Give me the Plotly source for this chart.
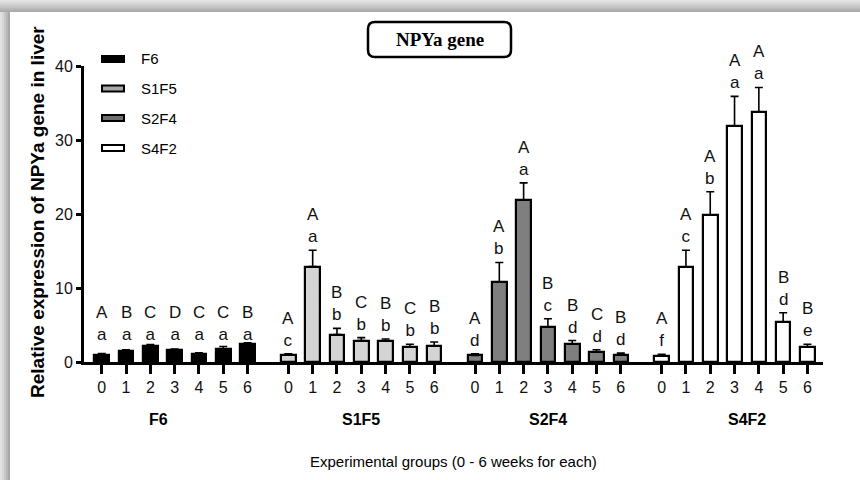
import plotly.graph_objects as go

# ---------------- data ----------------
groups = ["F6", "S1F5", "S2F4", "S4F2"]
weeks = [0, 1, 2, 3, 4, 5, 6]

F6_mean = [1.0, 1.5, 2.1, 1.6, 1.1, 1.8, 2.4]
F6_err = [0.15, 0.15, 0.25, 0.15, 0.15, 0.3, 0.2]
S1F5_mean = [0.95, 12.9, 3.7, 2.9, 2.8, 2.05, 2.2]
S1F5_err = [0.15, 2.2, 0.85, 0.4, 0.3, 0.35, 0.5]
S2F4_mean = [0.9, 10.85, 21.9, 4.7, 2.4, 1.35, 1.0]
S2F4_err = [0.2, 2.6, 2.3, 1.15, 0.5, 0.3, 0.2]
S4F2_mean = [0.85, 12.85, 19.9, 31.9, 33.8, 5.4, 2.0]
S4F2_err = [0.2, 2.25, 3.1, 4.0, 3.3, 1.25, 0.4]

F6_upper = ["A", "B", "C", "D", "C", "C", "B"]
F6_lower = ["a", "a", "a", "a", "a", "a", "a"]
S1F5_upper = ["A", "A", "B", "C", "B", "C", "B"]
S1F5_lower = ["c", "a", "b", "b", "b", "b", "b"]
S2F4_upper = ["A", "A", "A", "B", "B", "C", "B"]
S2F4_lower = ["d", "b", "a", "c", "d", "d", "d"]
S4F2_upper = ["A", "A", "A", "A", "A", "B", "B"]
S4F2_lower = ["f", "c", "b", "a", "a", "d", "e"]

y_ticks = [0, 10, 20, 30, 40]

means = [F6_mean, S1F5_mean, S2F4_mean, S4F2_mean]
errs = [F6_err, S1F5_err, S2F4_err, S4F2_err]
uppers = [F6_upper, S1F5_upper, S2F4_upper, S4F2_upper]
lowers = [F6_lower, S1F5_lower, S2F4_lower, S4F2_lower]
fills = ["#000000", "#d4d4d4", "#7f7f7f", "#ffffff"]
legend_fills = ["#000000", "#a8a8a8", "#6f6f6f", "#ffffff"]

# ---------------- layout geometry (pixels) ----------------
W, H = 860, 480
ML, MR, MT, MB = 84, 37, 66, 118
PW, PH = W - ML - MR, H - MT - MB
GROUP_STEP = 7.68
X_MIN, X_MAX = -0.73, 29.68


def px(xp):
    return (xp - ML) / PW


def py(yp):
    return (H - MB - yp) / PH


FONT = "Liberation Sans, Arial, sans-serif"

fig = go.Figure()
tickvals, ticktext = [], []
annotations = []
letter_shift = [-3, 2, 2, 2]
for g, name in enumerate(groups):
    xs = [g * GROUP_STEP + w for w in weeks]
    tickvals += xs
    ticktext += [str(w) for w in weeks]
    fig.add_trace(go.Bar(
        x=xs, y=means[g], width=0.6, name=name, showlegend=False,
        marker=dict(color=fills[g], line=dict(color="black", width=2.2)),
        error_y=dict(type="data", symmetric=False, array=errs[g],
                     arrayminus=[0] * len(weeks), color="black",
                     thickness=1.6, width=4),
    ))
    tops = [m + e for m, e in zip(means[g], errs[g])]
    if g == 0:
        tops = [max(tops)] * len(tops)
    for i, x in enumerate(xs):
        annotations.append(dict(
            x=x, y=tops[i], xref="x", yref="y",
            text=f"{uppers[g][i]}<br>{lowers[g][i]}",
            showarrow=False, xanchor="center", yanchor="bottom",
            yshift=letter_shift[g],
            font=dict(family=FONT, size=17, color="#111"),
        ))

# group labels
group_shift = [-16, 0, 0, 12]
for g, name in enumerate(groups):
    annotations.append(dict(
        x=g * GROUP_STEP + 3, y=py(419), xref="x", yref="paper",
        xanchor="center", yanchor="middle",
        text=f"<b>{name}</b>", showarrow=False, xshift=group_shift[g],
        font=dict(family=FONT, size=16, color="black"),
    ))

# x title
annotations.append(dict(
    x=px(453), y=py(461), xref="paper", yref="paper",
    xanchor="center", yanchor="middle",
    text="Experimental groups (0 - 6 weeks for each)", showarrow=False,
    font=dict(family=FONT, size=15, color="black"),
))
# y title
annotations.append(dict(
    x=px(37), y=py(212), xref="paper", yref="paper", textangle=-90,
    xanchor="center", yanchor="middle",
    text="<b>Relative expression of NPYa gene in liver</b>", showarrow=False,
    font=dict(family=FONT, size=19, color="black"),
))
# title in box
annotations.append(dict(
    x=px(440), y=py(40), xref="paper", yref="paper",
    xanchor="center", yanchor="middle",
    text="<b>NPYa gene</b>", showarrow=False,
    font=dict(family="Liberation Serif, Times New Roman, serif", size=19, color="black"),
))

shapes = []
# page shadow (top & left grey bands)
top_grays = ["#e2e2e2", "#d8d8d8", "#cecece", "#c4c4c4", "#b8b8b8", "#acacac"]
for k, c in enumerate(top_grays):
    shapes.append(dict(type="rect", xref="paper", yref="paper", layer="below",
                       x0=px(0), x1=px(W), y0=py(2 * k), y1=py(2 * k + 2),
                       fillcolor=c, line=dict(width=0)))
left_grays = ["#e2e2e2", "#d6d6d6", "#c8c8c8", "#b8b8b8", "#a8a8a8"]
for k, c in enumerate(left_grays):
    shapes.append(dict(type="rect", xref="paper", yref="paper", layer="below",
                       x0=px(2 * k), x1=px(2 * k + 2), y0=py(12), y1=py(H),
                       fillcolor=c, line=dict(width=0)))

# rounded title box
x0, x1, y0, y1, r = px(368), px(511), py(22), py(57), 7
rx, ry = r / PW, r / PH
path = (f"M {x0+rx},{y0} L {x1-rx},{y0} Q {x1},{y0} {x1},{y0-ry} "
        f"L {x1},{y1+ry} Q {x1},{y1} {x1-rx},{y1} L {x0+rx},{y1} "
        f"Q {x0},{y1} {x0},{y1+ry} L {x0},{y0-ry} Q {x0},{y0} {x0+rx},{y0} Z")
shapes.append(dict(type="path", path=path, xref="paper", yref="paper",
                   line=dict(color="black", width=2.5), fillcolor="white"))

# manual legend
legend_rows = [59, 88.5, 118, 148]
for g, name in enumerate(groups):
    yc = legend_rows[g]
    shapes.append(dict(type="rect", xref="paper", yref="paper",
                       x0=px(102), x1=px(124), y0=py(yc - 3), y1=py(yc + 3),
                       fillcolor=legend_fills[g], line=dict(color="black", width=2)))
    annotations.append(dict(
        x=px(139), y=py(yc), xref="paper", yref="paper",
        xanchor="left", yanchor="middle",
        text=name, showarrow=False,
        font=dict(family=FONT, size=15, color="black"),
    ))

fig.update_layout(
    width=W, height=H,
    margin=dict(l=ML, r=MR, t=MT, b=MB),
    paper_bgcolor="white", plot_bgcolor="white",
    barmode="overlay", bargap=0,
    showlegend=False,
    annotations=annotations, shapes=shapes,
    xaxis=dict(range=[X_MIN, X_MAX], tickvals=tickvals, ticktext=ticktext,
               ticks="outside", ticklen=9, tickwidth=3, tickcolor="black",
               showline=True, linecolor="black", linewidth=3,
               showgrid=False, zeroline=False,
               tickfont=dict(family=FONT, size=16, color="#111")),
    yaxis=dict(range=[0, 40], tickvals=y_ticks,
               ticks="outside", ticklen=5, tickwidth=2.5, tickcolor="black",
               showline=True, linecolor="black", linewidth=3,
               showgrid=False, zeroline=False,
               tickfont=dict(family=FONT, size=16, color="#111")),
)

fig.write_html("out.html", config={"displayModeBar": False},
               post_script="document.body.style.margin='0';document.body.style.overflow='hidden';")
